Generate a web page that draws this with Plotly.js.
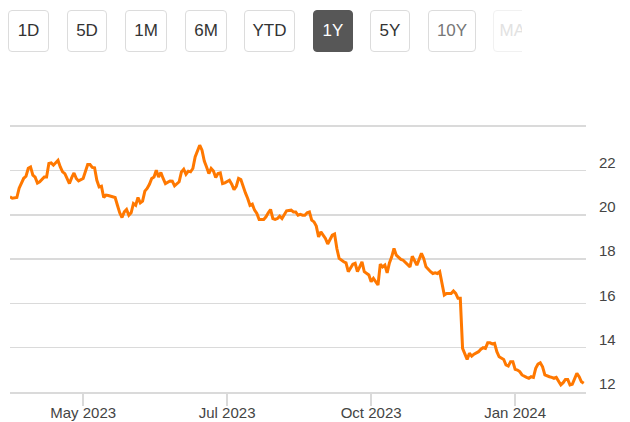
<!DOCTYPE html>
<html>
<head>
<meta charset="utf-8">
<script src="https://cdn.plot.ly/plotly-3.0.1.min.js"></script>
<style>
  body { margin: 0; background: #fff; font-family: Arial, "Liberation Sans", sans-serif; }
  #wrap { position: relative; width: 630px; height: 422px; overflow: hidden; }
  #graph { position: absolute; left: 0; top: 0; width: 630px; height: 422px; }
  #ranges { position: absolute; left: 0; top: 10px; width: 522px; height: 44px; overflow: hidden; }
  .btn {
    position: absolute; top: 0; height: 40px; line-height: 40px;
    border: 1px solid #dcdcdc; border-radius: 4px; background: #fff;
    color: #333; font-size: 17px; text-align: center; box-sizing: content-box;
  }
  .btn.on { background: #575757; border-color: #575757; color: #fff; }
  .btn.dim { color: #777; }
  .btn.off { color: #e2e2e2; border-color: #f1f1f1; }
</style>
</head>
<body>
<div id="wrap">
  <div id="graph"></div>
  <div id="ranges"></div>
</div>
<script>
// range buttons shown above the chart
var rangeLabels = ['1D', '5D', '1M', '6M', 'YTD', '1Y', '5Y', '10Y', 'MAX'];
var rangeLeft   = [8, 67, 125, 185, 244, 313, 370, 428, 493];
var rangeWidth  = [39, 38, 40, 40, 49, 38, 38, 46, 48];
var activeRange = '1Y';

// trading session index (0 = first day of the year window) and close price
var sessions = [
    0, 1, 3, 4, 6, 7, 8, 9, 10, 11, 12, 13, 15, 16, 17, 18, 19, 20, 21, 22,
    23, 24, 25, 26, 27, 28, 29, 30, 32, 33, 34, 35, 36, 37, 38, 39, 40, 41, 42, 43,
    44, 46, 47, 48, 49, 50, 51, 52, 53, 54, 55, 56, 57, 58, 59, 60, 61, 62, 63, 64,
    65, 66, 67, 68, 70, 71, 72, 73, 74, 75, 76, 77, 78, 79, 80, 81, 83, 84, 85, 86,
    87, 88, 89, 90, 91, 92, 93, 94, 96, 97, 98, 99, 100, 101, 102, 103, 104, 105, 106, 107,
    108, 109, 111, 112, 113, 114, 115, 116, 117, 118, 119, 120, 121, 123, 124, 125, 126, 127, 128, 129,
    130, 131, 132, 133, 134, 135, 136, 138, 139, 141, 142, 143, 144, 146, 147, 148, 150, 151, 152, 153,
    154, 155, 157, 158, 159, 161, 162, 163, 164, 165, 166, 167, 168, 169, 171, 172, 174, 175, 176, 177,
    178, 179, 180, 181, 182, 184, 185, 186, 187, 188, 189, 190, 191, 193, 194, 195, 196, 197, 198, 199,
    200, 201, 202, 203, 205, 206, 207, 208, 209, 210, 211, 212, 213, 214, 216, 217, 218, 219, 220, 221,
    222, 223, 224, 226, 227, 228, 229, 230, 231, 232, 233, 234, 235, 236, 237, 238, 239, 241, 242, 243,
    244, 245, 246, 247, 248, 249, 250, 251
];
var closes = [
    20.81, 20.75, 20.78, 21.20, 21.65, 21.74, 22.10, 22.16, 21.79, 21.70, 21.43, 21.49, 21.71, 21.71, 22.32, 22.34, 22.24, 22.34, 22.46, 22.16,
    21.94, 21.86, 21.59, 21.41, 21.68, 21.89, 21.64, 21.53, 21.64, 21.94, 22.27, 22.27, 22.14, 22.12, 21.56, 21.26, 21.29, 20.78, 20.89, 20.87,
    20.84, 20.78, 20.43, 20.09, 19.88, 20.13, 20.24, 19.98, 20.09, 20.51, 20.43, 20.78, 20.54, 20.62, 21.07, 21.19, 21.38, 21.64, 21.71, 22.01,
    21.71, 21.91, 21.64, 21.41, 21.53, 21.52, 21.31, 21.41, 21.49, 21.94, 22.06, 21.83, 21.97, 21.94, 22.09, 22.61, 23.14, 22.92, 22.43, 22.16,
    21.86, 22.09, 21.98, 21.68, 21.86, 21.89, 21.41, 21.44, 21.56, 21.38, 21.14, 21.29, 21.64, 21.59, 21.26, 20.99, 20.74, 20.43, 20.48, 20.21,
    20.06, 19.79, 19.79, 19.91, 20.09, 20.24, 19.83, 19.79, 19.83, 19.94, 19.83, 19.98, 20.18, 20.21, 20.13, 20.13, 19.98, 20.02, 19.98, 19.98,
    20.09, 20.13, 19.76, 19.68, 19.49, 19.00, 19.23, 18.93, 18.68, 19.08, 19.13, 18.48, 18.03, 17.88, 17.83, 17.43, 17.77, 17.81, 17.43, 17.65,
    17.88, 17.43, 17.28, 16.98, 17.13, 16.83, 17.77, 17.65, 17.73, 17.38, 17.83, 18.10, 18.48, 18.18, 17.99, 17.95, 17.77, 17.65, 18.13, 17.95,
    17.73, 17.99, 18.26, 18.03, 17.65, 17.43, 17.35, 17.38, 17.35, 17.43, 16.98, 16.38, 16.45, 16.45, 16.56, 16.45, 16.23, 16.23, 13.97, 13.67,
    13.47, 13.75, 13.62, 13.71, 13.82, 13.93, 14.00, 13.97, 14.22, 14.22, 14.17, 14.20, 13.82, 13.59, 13.47, 13.22, 13.17, 13.37, 13.37, 13.02,
    12.99, 12.92, 12.77, 12.66, 12.62, 12.69, 12.66, 13.07, 13.26, 13.32, 13.14, 12.77, 12.72, 12.69, 12.66, 12.62, 12.66, 12.32, 12.42, 12.57,
    12.57, 12.32, 12.35, 12.62, 12.84, 12.69, 12.46, 12.39
];

// x axis ticks (session index) and their labels
var xTickSessions = [32, 95, 158, 221];
var xTickLabels = ['May 2023', 'Jul 2023', 'Oct 2023', 'Jan 2024'];

// y axis grid values; the top line carries no label
var yTickValues = [12, 14, 16, 18, 20, 22, 24];
var yTickLabels = ['12', '14', '16', '18', '20', '22', ''];

/* ---------- range buttons ---------- */
var bar = document.getElementById('ranges');
for (var i = 0; i < rangeLabels.length; i++) {
    var b = document.createElement('div');
    b.className = 'btn';
    if (rangeLabels[i] === activeRange) b.className += ' on';
    if (rangeLabels[i] === '10Y') b.className += ' dim';
    if (rangeLabels[i] === 'MAX') b.className += ' off';
    b.style.left = rangeLeft[i] + 'px';
    b.style.width = rangeWidth[i] + 'px';
    b.textContent = rangeLabels[i];
    bar.appendChild(b);
}

/* ---------- chart ---------- */
var trace = {
    x: sessions,
    y: closes,
    mode: 'lines',
    line: { color: '#ff7800', width: 3 },
    hoverinfo: 'skip'
};

var font = { family: 'Arial, "Liberation Sans", sans-serif', size: 15, color: '#444' };

var layout = {
    width: 630,
    height: 422,
    margin: { l: 10, r: 44, t: 124, b: 30 },
    paper_bgcolor: '#fff',
    plot_bgcolor: '#fff',
    showlegend: false,
    xaxis: {
        range: [0, 252],
        showgrid: false,
        zeroline: false,
        showline: true,
        linecolor: '#dadada',
        linewidth: 2,
        ticks: 'outside',
        ticklen: 12,
        tickwidth: 1.5,
        tickcolor: '#dadada',
        tickvals: xTickSessions,
        ticktext: xTickLabels,
        ticklabelstandoff: -6,
        tickfont: font
    },
    yaxis: {
        side: 'right',
        // a little headroom above 24 so the top grid line is kept
        range: [12, 24.1],
        zeroline: false,
        showline: false,
        ticks: '',
        gridcolor: '#dadada',
        gridwidth: 1.5,
        tickvals: yTickValues,
        ticktext: yTickLabels,
        ticklabelshift: -8,
        ticklabelstandoff: 12,
        tickfont: font
    }
};

Plotly.newPlot('graph', [trace], layout, { staticPlot: true });
</script>
</body>
</html>
